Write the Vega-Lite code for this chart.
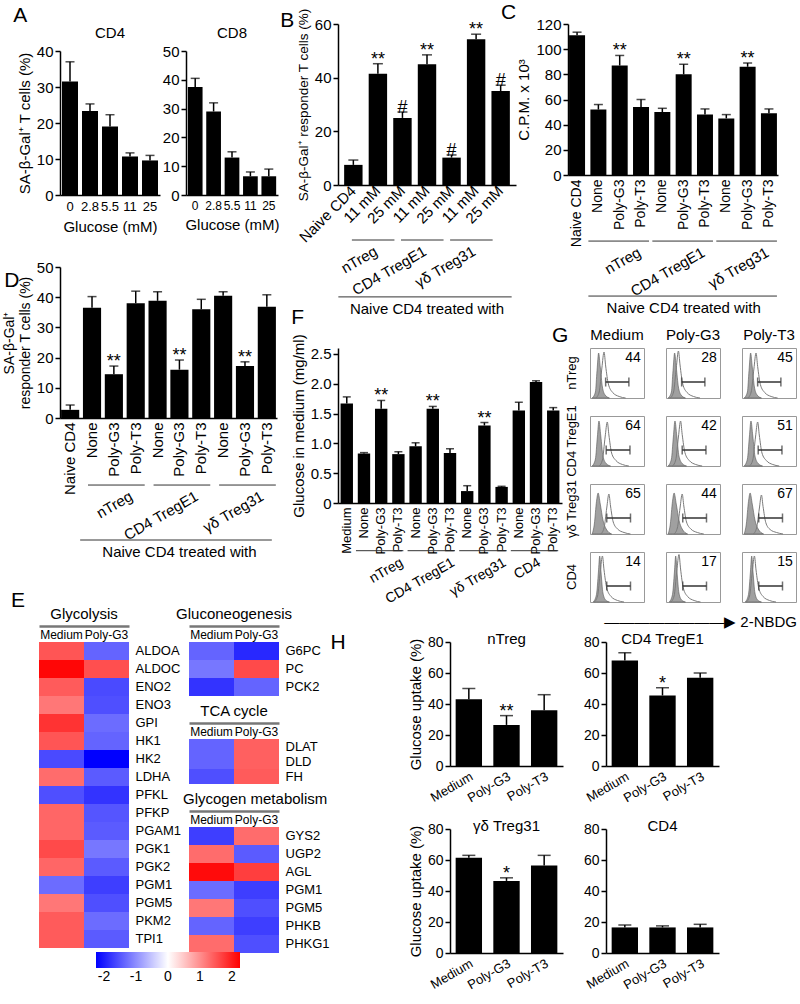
{
"$schema":"https://vega.github.io/schema/vega-lite/v6.json",
"padding":{"left":2,"top":2,"right":2,"bottom":0},
"config":{
 "font":"Liberation Sans",
 "view":{"stroke":null},
 "axis":{"grid":false,"domainColor":"#000","tickColor":"#000","labelColor":"#000","titleColor":"#000","labelFontSize":15,"titleFontSize":15,"titleFontWeight":"normal","domainWidth":1.5,"tickWidth":1.5,"tickSize":5,"labelPadding":2,"titlePadding":4,"labelFlush":false,"labelOverlap":false,"labelFont":"Liberation Sans","titleFont":"Liberation Sans"},
 "title":{"fontSize":15,"fontWeight":"normal","color":"#000","font":"Liberation Sans"},
 "header":{"labelFont":"Liberation Sans","titleFont":"Liberation Sans","labelColor":"#000","titleColor":"#000","titleFontWeight":"normal"},
 "legend":{"labelFont":"Liberation Sans","labelColor":"#000"},
 "text":{"font":"Liberation Sans","color":"#000"}
},
"datasets":{
 "a4":[{"k":"0","m":31.5,"hi":37},{"k":"2.8","m":23.3,"hi":25.3},{"k":"5.5","m":19,"hi":22.3},{"k":"11","m":10.7,"hi":11.7},{"k":"25","m":9.6,"hi":11}],
 "a8":[{"k":"0","m":37.5,"hi":40.5},{"k":"2.8","m":29,"hi":32},{"k":"5.5","m":13,"hi":15},{"k":"11","m":6.5,"hi":8},{"k":"25","m":6.5,"hi":9}],
 "b":[{"k":"a:Naive CD4","m":7.5,"hi":9.3,"s":""},{"k":"b:11 mM","m":41.5,"hi":45.2,"s":"**"},{"k":"c:25 mM","m":25,"hi":27.2,"s":"#"},{"k":"d:11 mM","m":45,"hi":48.5,"s":"**"},{"k":"e:25 mM","m":10.2,"hi":11.2,"s":"#"},{"k":"f:11 mM","m":54.3,"hi":56.2,"s":"**"},{"k":"g:25 mM","m":35,"hi":37.2,"s":"#"}],
 "bg":[{"g":"nTreg","k1":"b:11 mM","k2":"c:25 mM"},{"g":"CD4 TregE1","k1":"d:11 mM","k2":"e:25 mM"},{"g":"γδ Treg31","k1":"f:11 mM","k2":"g:25 mM"}],
 "bl":[{"t":"Naive CD4 treated with","k1":"a:Naive CD4","k2":"g:25 mM","km":"d:11 mM"}],
 "c":[{"k":"a:Naive CD4","m":111,"hi":113.5,"s":""},{"k":"b:None","m":52,"hi":56,"s":""},{"k":"c:Poly-G3","m":87,"hi":95,"s":"**"},{"k":"d:Poly-T3","m":54,"hi":60,"s":""},{"k":"e:None","m":50,"hi":53,"s":""},{"k":"f:Poly-G3","m":80,"hi":88,"s":"**"},{"k":"g:Poly-T3","m":48,"hi":52.5,"s":""},{"k":"h:None","m":45,"hi":48,"s":""},{"k":"i:Poly-G3","m":86,"hi":89,"s":"**"},{"k":"j:Poly-T3","m":49,"hi":52.5,"s":""}],
 "cg":[{"g":"nTreg","k1":"b:None","k2":"d:Poly-T3"},{"g":"CD4 TregE1","k1":"e:None","k2":"g:Poly-T3"},{"g":"γδ Treg31","k1":"h:None","k2":"j:Poly-T3"}],
 "cl":[{"t":"Naive CD4 treated with","k1":"b:None","k2":"j:Poly-T3","km":"f:Poly-G3"}],
 "d":[{"k":"a:Naive CD4","m":2.7,"hi":4.3,"s":""},{"k":"b:None","m":36.5,"hi":40.2,"s":""},{"k":"c:Poly-G3","m":14.5,"hi":17.2,"s":"**"},{"k":"d:Poly-T3","m":38,"hi":42,"s":""},{"k":"e:None","m":38.8,"hi":41.8,"s":""},{"k":"f:Poly-G3","m":16,"hi":19.2,"s":"**"},{"k":"g:Poly-T3","m":36,"hi":39.3,"s":""},{"k":"h:None","m":40.5,"hi":41.8,"s":""},{"k":"i:Poly-G3","m":17.2,"hi":18.6,"s":"**"},{"k":"j:Poly-T3","m":36.8,"hi":40.8,"s":""}],
 "dl":[{"t":"Naive CD4 treated with","k1":"a:Naive CD4","k2":"j:Poly-T3","km":"f:Poly-G3"}],
 "f":[{"k":"a:Medium","m":1.67,"hi":1.78,"s":""},{"k":"b:None","m":0.83,"hi":0.845,"s":""},{"k":"c:Poly-G3","m":1.58,"hi":1.72,"s":"**"},{"k":"d:Poly-T3","m":0.82,"hi":0.86,"s":""},{"k":"e:None","m":0.95,"hi":1.01,"s":""},{"k":"f:Poly-G3","m":1.58,"hi":1.62,"s":"**"},{"k":"g:Poly-T3","m":0.84,"hi":0.91,"s":""},{"k":"h:None","m":0.2,"hi":0.29,"s":""},{"k":"i:Poly-G3","m":1.3,"hi":1.35,"s":"**"},{"k":"j:Poly-T3","m":0.27,"hi":0.28,"s":""},{"k":"k:None","m":1.55,"hi":1.69,"s":""},{"k":"l:Poly-G3","m":2.03,"hi":2.05,"s":""},{"k":"m:Poly-T3","m":1.55,"hi":1.6,"s":""}],
 "fg":[{"g":"nTreg","k1":"b:None","k2":"d:Poly-T3","ka":"d:Poly-T3"},{"g":"CD4 TregE1","k1":"e:None","k2":"g:Poly-T3","ka":"g:Poly-T3"},{"g":"γδ Treg31","k1":"h:None","k2":"j:Poly-T3","ka":"j:Poly-T3"},{"g":"CD4","k1":"k:None","k2":"m:Poly-T3","ka":"l:Poly-G3"}],
 "h1":[{"k":"Medium","m":43,"hi":50,"s":""},{"k":"Poly-G3","m":26.5,"hi":32.5,"s":"**"},{"k":"Poly-T3","m":36,"hi":46,"s":""}],
 "h2":[{"k":"Medium","m":68,"hi":73,"s":""},{"k":"Poly-G3","m":45.5,"hi":50.5,"s":"*"},{"k":"Poly-T3","m":57,"hi":60,"s":""}],
 "h3":[{"k":"Medium","m":61.5,"hi":63,"s":""},{"k":"Poly-G3","m":46.5,"hi":48.5,"s":"*"},{"k":"Poly-T3","m":56.5,"hi":63,"s":""}],
 "h4":[{"k":"Medium","m":16.5,"hi":18,"s":""},{"k":"Poly-G3","m":16.5,"hi":17.5,"s":""},{"k":"Poly-T3","m":16.5,"hi":18.5,"s":""}],
 "eg":[{"gene":"ALDOA","c":"Medium","z":1.5},{"gene":"ALDOA","c":"Poly-G3","z":-1.37},{"gene":"ALDOC","c":"Medium","z":2.2},{"gene":"ALDOC","c":"Poly-G3","z":1.55},{"gene":"ENO2","c":"Medium","z":1.45},{"gene":"ENO2","c":"Poly-G3","z":-1.6},{"gene":"ENO3","c":"Medium","z":1.2},{"gene":"ENO3","c":"Poly-G3","z":-1.55},{"gene":"GPI","c":"Medium","z":1.8},{"gene":"GPI","c":"Poly-G3","z":-1.3},{"gene":"HK1","c":"Medium","z":1.5},{"gene":"HK1","c":"Poly-G3","z":-1.37},{"gene":"HK2","c":"Medium","z":-1.6},{"gene":"HK2","c":"Poly-G3","z":-2.25},{"gene":"LDHA","c":"Medium","z":1.3},{"gene":"LDHA","c":"Poly-G3","z":-1.45},{"gene":"PFKL","c":"Medium","z":-1.55},{"gene":"PFKL","c":"Poly-G3","z":-1.8},{"gene":"PFKP","c":"Medium","z":1.35},{"gene":"PFKP","c":"Poly-G3","z":-1.5},{"gene":"PGAM1","c":"Medium","z":1.35},{"gene":"PGAM1","c":"Poly-G3","z":-1.45},{"gene":"PGK1","c":"Medium","z":1.6},{"gene":"PGK1","c":"Poly-G3","z":-1.2},{"gene":"PGK2","c":"Medium","z":1.35},{"gene":"PGK2","c":"Poly-G3","z":-1.45},{"gene":"PGM1","c":"Medium","z":-1.3},{"gene":"PGM1","c":"Poly-G3","z":-1.7},{"gene":"PGM5","c":"Medium","z":1.2},{"gene":"PGM5","c":"Poly-G3","z":-1.55},{"gene":"PKM2","c":"Medium","z":1.45},{"gene":"PKM2","c":"Poly-G3","z":-1.3},{"gene":"TPI1","c":"Medium","z":1.45},{"gene":"TPI1","c":"Poly-G3","z":-1.45}],
 "en":[{"gene":"G6PC","c":"Medium","z":-1.37},{"gene":"G6PC","c":"Poly-G3","z":-1.9},{"gene":"PC","c":"Medium","z":-1.2},{"gene":"PC","c":"Poly-G3","z":1.6},{"gene":"PCK2","c":"Medium","z":-1.8},{"gene":"PCK2","c":"Poly-G3","z":-1.37}],
 "et":[{"gene":"DLAT","c":"Medium","z":-1.37},{"gene":"DLAT","c":"Poly-G3","z":1.4},{"gene":"DLD","c":"Medium","z":-1.37},{"gene":"DLD","c":"Poly-G3","z":1.4},{"gene":"FH","c":"Medium","z":-1.55},{"gene":"FH","c":"Poly-G3","z":1.45}],
 "ey":[{"gene":"GYS2","c":"Medium","z":-1.7},{"gene":"GYS2","c":"Poly-G3","z":1.3},{"gene":"UGP2","c":"Medium","z":1.3},{"gene":"UGP2","c":"Poly-G3","z":-1.45},{"gene":"AGL","c":"Medium","z":2.15},{"gene":"AGL","c":"Poly-G3","z":1.7},{"gene":"PGM1","c":"Medium","z":-1.3},{"gene":"PGM1","c":"Poly-G3","z":-1.7},{"gene":"PGM5","c":"Medium","z":1.2},{"gene":"PGM5","c":"Poly-G3","z":-1.55},{"gene":"PHKB","c":"Medium","z":-1.37},{"gene":"PHKB","c":"Poly-G3","z":-1.7},{"gene":"PHKG1","c":"Medium","z":1.3},{"gene":"PHKG1","c":"Poly-G3","z":-1.55}],
 "gh":[
  {"c":"nTreg","p":"Medium","t":"a","x":[0.2,0.5,0.65,0.8,0.95,1.15,1.4,1.8],"y":[0,12,55,90,62,22,6,0]},
  {"c":"nTreg","p":"Poly-G3","t":"a","x":[0.2,0.5,0.65,0.8,0.95,1.15,1.4,1.8],"y":[0,12,55,90,62,22,6,0]},
  {"c":"nTreg","p":"Poly-T3","t":"a","x":[0.2,0.5,0.65,0.8,0.95,1.15,1.4,1.8],"y":[0,12,55,90,62,22,6,0]},
  {"c":"CD4 TregE1","p":"Medium","t":"a","x":[0.2,0.5,0.68,0.83,1.0,1.2,1.5,1.9],"y":[0,14,58,90,60,20,5,0]},
  {"c":"CD4 TregE1","p":"Poly-G3","t":"a","x":[0.2,0.5,0.68,0.83,1.0,1.2,1.5,1.9],"y":[0,14,58,90,60,20,5,0]},
  {"c":"CD4 TregE1","p":"Poly-T3","t":"a","x":[0.2,0.5,0.68,0.83,1.0,1.2,1.5,1.9],"y":[0,14,58,90,60,20,5,0]},
  {"c":"γδ Treg31","p":"Medium","t":"a","x":[0.2,0.4,0.6,0.75,0.95,1.2,1.5,2.0],"y":[0,20,65,82,60,28,10,0]},
  {"c":"γδ Treg31","p":"Poly-G3","t":"a","x":[0.2,0.4,0.6,0.75,0.95,1.2,1.5,2.0],"y":[0,20,65,82,60,28,10,0]},
  {"c":"γδ Treg31","p":"Poly-T3","t":"a","x":[0.2,0.4,0.6,0.75,0.95,1.2,1.5,2.0],"y":[0,20,65,82,60,28,10,0]},
  {"c":"CD4","p":"Medium","t":"a","x":[0.3,0.6,0.78,0.9,1.02,1.2,1.45,1.8],"y":[0,15,60,92,60,18,4,0]},
  {"c":"CD4","p":"Poly-G3","t":"a","x":[0.3,0.6,0.78,0.9,1.02,1.2,1.45,1.8],"y":[0,15,60,92,60,18,4,0]},
  {"c":"CD4","p":"Poly-T3","t":"a","x":[0.3,0.6,0.78,0.9,1.02,1.2,1.45,1.8],"y":[0,15,60,92,60,18,4,0]},
  {"c":"nTreg","p":"Medium","t":"b","x":[0.55,0.85,1.1,1.3,1.45,1.7,2.1,2.7,3.3],"y":[0,12,60,92,64,28,11,3,0]},
  {"c":"nTreg","p":"Poly-G3","t":"b","x":[0.4,0.7,0.95,1.15,1.3,1.55,1.95,2.55,3.15],"y":[0,12,60,94,66,28,11,3,0]},
  {"c":"nTreg","p":"Poly-T3","t":"b","x":[0.55,0.85,1.1,1.3,1.45,1.7,2.1,2.7,3.3],"y":[0,12,58,90,63,27,11,3,0]},
  {"c":"CD4 TregE1","p":"Medium","t":"b","x":[0.85,1.15,1.4,1.6,1.75,2.0,2.4,3.0,3.6],"y":[0,12,58,88,62,26,11,3,0]},
  {"c":"CD4 TregE1","p":"Poly-G3","t":"b","x":[0.6,0.9,1.15,1.35,1.5,1.75,2.15,2.75,3.35],"y":[0,12,58,90,63,27,11,3,0]},
  {"c":"CD4 TregE1","p":"Poly-T3","t":"b","x":[0.7,1.0,1.25,1.45,1.6,1.85,2.25,2.85,3.45],"y":[0,12,58,88,62,26,11,3,0]},
  {"c":"γδ Treg31","p":"Medium","t":"b","x":[1.0,1.3,1.55,1.75,1.9,2.15,2.55,3.15,3.75],"y":[0,12,52,80,56,24,10,3,0]},
  {"c":"γδ Treg31","p":"Poly-G3","t":"b","x":[0.75,1.05,1.3,1.5,1.65,1.9,2.3,2.9,3.5],"y":[0,12,52,80,56,24,10,3,0]},
  {"c":"γδ Treg31","p":"Poly-T3","t":"b","x":[1.05,1.35,1.6,1.8,1.95,2.2,2.6,3.2,3.8],"y":[0,12,50,78,55,23,9,3,0]},
  {"c":"CD4","p":"Medium","t":"b","x":[0.4,0.7,0.95,1.15,1.3,1.55,1.95,2.55,3.15],"y":[0,12,60,92,64,28,11,3,0]},
  {"c":"CD4","p":"Poly-G3","t":"b","x":[0.45,0.75,1.0,1.2,1.35,1.6,2.0,2.6,3.2],"y":[0,12,62,95,66,28,11,3,0]},
  {"c":"CD4","p":"Poly-T3","t":"b","x":[0.4,0.7,0.95,1.15,1.3,1.55,1.95,2.55,3.15],"y":[0,12,60,92,64,28,11,3,0]},
  {"c":"nTreg","p":"Medium","t":"g","x":[1.45],"y":[0],"x2":3.6,"n":"44"},
  {"c":"nTreg","p":"Poly-G3","t":"g","x":[1.45],"y":[0],"x2":3.6,"n":"28"},
  {"c":"nTreg","p":"Poly-T3","t":"g","x":[1.45],"y":[0],"x2":3.6,"n":"45"},
  {"c":"CD4 TregE1","p":"Medium","t":"g","x":[1.5],"y":[0],"x2":3.7,"n":"64"},
  {"c":"CD4 TregE1","p":"Poly-G3","t":"g","x":[1.5],"y":[0],"x2":3.7,"n":"42"},
  {"c":"CD4 TregE1","p":"Poly-T3","t":"g","x":[1.5],"y":[0],"x2":3.7,"n":"51"},
  {"c":"γδ Treg31","p":"Medium","t":"g","x":[1.55],"y":[0],"x2":3.75,"n":"65"},
  {"c":"γδ Treg31","p":"Poly-G3","t":"g","x":[1.55],"y":[0],"x2":3.75,"n":"44"},
  {"c":"γδ Treg31","p":"Poly-T3","t":"g","x":[1.55],"y":[0],"x2":3.75,"n":"67"},
  {"c":"CD4","p":"Medium","t":"g","x":[1.55],"y":[0],"x2":3.75,"n":"14"},
  {"c":"CD4","p":"Poly-G3","t":"g","x":[1.55],"y":[0],"x2":3.75,"n":"17"},
  {"c":"CD4","p":"Poly-T3","t":"g","x":[1.55],"y":[0],"x2":3.75,"n":"15"}
 ]
},
"vconcat":[
 {"hconcat":[
  {"vconcat":[
   {"vconcat":[
    {"width":1,"height":1,"data":{"values":[]},"mark":{"type":"point","opacity":0},"encoding":{}},
    {"title":{"text":"A","anchor":"start","fontSize":21,"offset":0,"dx":-4},
     "hconcat":[
      {"width":100,"height":144,"title":{"text":"CD4","offset":3},"data":{"name":"a4"},
       "layer":[
        {"mark":{"type":"bar","color":"#000"},"encoding":{
          "x":{"field":"k","type":"nominal","sort":["0","2.8","5.5","11","25"],"scale":{"paddingInner":0.2,"paddingOuter":0.1},"axis":{"title":"Glucose (mM)","labelAngle":0,"ticks":false,"labelPadding":5,"titlePadding":6,"labelFontSize":13}},
          "y":{"field":"m","type":"quantitative","scale":{"domain":[0,40]},"axis":{"title":"SA-β-Gal⁺ T cells (%)","values":[0,10,20,30,40],"tickCount":20,"labelOverlap":false}}}},
        {"mark":{"type":"rule","color":"#000","strokeWidth":1.5},"encoding":{"x":{"field":"k","type":"nominal","sort":["0","2.8","5.5","11","25"]},"y":{"field":"m","type":"quantitative"},"y2":{"field":"hi"}}},
        {"mark":{"type":"tick","color":"#000","thickness":1.5,"size":9},"encoding":{"x":{"field":"k","type":"nominal","sort":["0","2.8","5.5","11","25"]},"y":{"field":"hi","type":"quantitative"}}}
       ]},
      {"width":92,"height":144,"title":{"text":"CD8","offset":3},"data":{"name":"a8"},
       "layer":[
        {"mark":{"type":"bar","color":"#000"},"encoding":{
          "x":{"field":"k","type":"nominal","sort":["0","2.8","5.5","11","25"],"scale":{"paddingInner":0.2,"paddingOuter":0.1},"axis":{"title":"Glucose (mM)","labelAngle":0,"ticks":false,"labelPadding":5,"titlePadding":6,"labelFontSize":12}},
          "y":{"field":"m","type":"quantitative","scale":{"domain":[0,50]},"axis":{"title":null,"values":[0,10,20,30,40,50],"tickCount":20,"labelOverlap":false}}}},
        {"mark":{"type":"rule","color":"#000","strokeWidth":1.5},"encoding":{"x":{"field":"k","type":"nominal","sort":["0","2.8","5.5","11","25"]},"y":{"field":"m","type":"quantitative"},"y2":{"field":"hi"}}},
        {"mark":{"type":"tick","color":"#000","thickness":1.5,"size":9},"encoding":{"x":{"field":"k","type":"nominal","sort":["0","2.8","5.5","11","25"]},"y":{"field":"hi","type":"quantitative"}}}
       ]}
     ],"spacing":2}
   ],"spacing":-20},
   {"width":217,"height":151,"title":{"text":"D","anchor":"start","fontSize":21,"offset":-31,"dx":2},"data":{"name":"d"},
    "layer":[
     {"mark":{"type":"bar","color":"#000"},"encoding":{
       "x":{"field":"k","type":"nominal","sort":"ascending","scale":{"paddingInner":0.17,"paddingOuter":0.05},"axis":{"title":null,"ticks":false,"labelAngle":-90,"labelAlign":"right","labelBaseline":"middle","labelPadding":4,"labelExpr":"split(datum.value, ':')[1]"}},
       "y":{"field":"m","type":"quantitative","scale":{"domain":[0,50]},"axis":{"title":["SA-β-Gal⁺","responder T cells (%)"],"titleFontSize":14,"values":[0,10,20,30,40,50],"tickCount":20,"labelOverlap":false}}}},
     {"mark":{"type":"rule","color":"#000","strokeWidth":1.5},"encoding":{"x":{"field":"k","type":"nominal","sort":"ascending"},"y":{"field":"m","type":"quantitative"},"y2":{"field":"hi"}}},
     {"mark":{"type":"tick","color":"#000","thickness":1.5,"size":9},"encoding":{"x":{"field":"k","type":"nominal","sort":"ascending"},"y":{"field":"hi","type":"quantitative"}}},
     {"mark":{"type":"text","fontSize":18,"baseline":"alphabetic","dy":1},"encoding":{"x":{"field":"k","type":"nominal","sort":"ascending"},"y":{"field":"hi","type":"quantitative"},"text":{"field":"s"}}},
     {"data":{"name":"cg"},"mark":{"type":"rule","color":"#333","strokeWidth":1,"xOffset":-4,"x2Offset":9},"encoding":{"x":{"field":"k1","type":"nominal","sort":"ascending"},"x2":{"field":"k2"},"y":{"datum":-22.2}}},
     {"data":{"name":"cg"},"mark":{"type":"text","angle":330,"align":"right","baseline":"top","fontSize":15,"xOffset":-8,"yOffset":4},"encoding":{"x":{"field":"k2","type":"nominal","sort":"ascending"},"y":{"datum":-22.2},"text":{"field":"g"}}},
     {"data":{"name":"dl"},"mark":{"type":"rule","color":"#333","strokeWidth":1,"xOffset":10,"x2Offset":5},"encoding":{"x":{"field":"k1","type":"nominal","sort":"ascending"},"x2":{"field":"k2"},"y":{"datum":-40.4}}},
     {"data":{"name":"dl"},"mark":{"type":"text","align":"center","baseline":"top","fontSize":15,"yOffset":5},"encoding":{"x":{"field":"km","type":"nominal","sort":"ascending"},"y":{"datum":-40.4},"text":{"field":"t"}}}
    ]}
  ],"spacing":26},
  {"vconcat":[
   {"concat":[
    {"width":178,"height":161,"title":{"text":"B","anchor":"start","fontSize":21,"dx":-16,"offset":-23},"data":{"name":"b"},
     "layer":[
      {"mark":{"type":"bar","color":"#000"},"encoding":{
        "x":{"field":"k","type":"nominal","sort":"ascending","scale":{"paddingInner":0.25,"paddingOuter":0.25},"axis":{"title":null,"ticks":false,"labelAngle":-45,"labelAlign":"right","labelBaseline":"middle","labelPadding":3,"labelExpr":"split(datum.value, ':')[1]"}},
        "y":{"field":"m","type":"quantitative","scale":{"domain":[0,60]},"axis":{"title":"SA-β-Gal⁺ responder T cells (%)","titleFontSize":13.5,"values":[0,20,40,60],"tickCount":20,"labelOverlap":false}}}},
      {"mark":{"type":"rule","color":"#000","strokeWidth":1.5},"encoding":{"x":{"field":"k","type":"nominal","sort":"ascending"},"y":{"field":"m","type":"quantitative"},"y2":{"field":"hi"}}},
      {"mark":{"type":"tick","color":"#000","thickness":1.5,"size":10},"encoding":{"x":{"field":"k","type":"nominal","sort":"ascending"},"y":{"field":"hi","type":"quantitative"}}},
      {"mark":{"type":"text","fontSize":18,"baseline":"alphabetic","dy":1},"encoding":{"x":{"field":"k","type":"nominal","sort":"ascending"},"y":{"field":"hi","type":"quantitative"},"text":{"field":"s"}}},
      {"data":{"name":"bg"},"mark":{"type":"rule","color":"#333","strokeWidth":1,"xOffset":-26,"x2Offset":-8},"encoding":{"x":{"field":"k1","type":"nominal","sort":"ascending"},"x2":{"field":"k2"},"y":{"datum":-20.5}}},
      {"data":{"name":"bg"},"mark":{"type":"text","angle":330,"align":"right","baseline":"top","fontSize":15,"xOffset":-30,"yOffset":4},"encoding":{"x":{"field":"k2","type":"nominal","sort":"ascending"},"y":{"datum":-20.5},"text":{"field":"g"}}},
      {"data":{"name":"bl"},"mark":{"type":"rule","color":"#333","strokeWidth":1,"xOffset":-15,"x2Offset":11},"encoding":{"x":{"field":"k1","type":"nominal","sort":"ascending"},"x2":{"field":"k2"},"y":{"datum":-41.7}}},
      {"data":{"name":"bl"},"mark":{"type":"text","align":"center","baseline":"top","fontSize":15,"yOffset":5},"encoding":{"x":{"field":"km","type":"nominal","sort":"ascending"},"y":{"datum":-41.7},"text":{"field":"t"}}}
     ]},
    {"width":210,"height":151,"title":{"text":"C","anchor":"start","fontSize":21,"dx":-16,"offset":-6},"data":{"name":"c"},
     "layer":[
      {"mark":{"type":"bar","color":"#000"},"encoding":{
        "x":{"field":"k","type":"nominal","sort":"ascending","scale":{"paddingInner":0.25,"paddingOuter":0.05},"axis":{"title":null,"ticks":false,"labelAngle":-90,"labelAlign":"right","labelBaseline":"middle","labelPadding":4,"labelFontSize":14,"labelExpr":"split(datum.value, ':')[1]"}},
        "y":{"field":"m","type":"quantitative","scale":{"domain":[0,120]},"axis":{"title":"C.P.M. x 10³","values":[0,20,40,60,80,100,120],"tickCount":20,"labelOverlap":false}}}},
      {"mark":{"type":"rule","color":"#000","strokeWidth":1.5},"encoding":{"x":{"field":"k","type":"nominal","sort":"ascending"},"y":{"field":"m","type":"quantitative"},"y2":{"field":"hi"}}},
      {"mark":{"type":"tick","color":"#000","thickness":1.5,"size":9},"encoding":{"x":{"field":"k","type":"nominal","sort":"ascending"},"y":{"field":"hi","type":"quantitative"}}},
      {"mark":{"type":"text","fontSize":18,"baseline":"alphabetic","dy":1},"encoding":{"x":{"field":"k","type":"nominal","sort":"ascending"},"y":{"field":"hi","type":"quantitative"},"text":{"field":"s"}}},
      {"data":{"name":"cg"},"mark":{"type":"rule","color":"#333","strokeWidth":1,"xOffset":-10,"x2Offset":8},"encoding":{"x":{"field":"k1","type":"nominal","sort":"ascending"},"x2":{"field":"k2"},"y":{"datum":-52.5}}},
      {"data":{"name":"cg"},"mark":{"type":"text","angle":330,"align":"right","baseline":"top","fontSize":15,"xOffset":-5,"yOffset":4},"encoding":{"x":{"field":"k2","type":"nominal","sort":"ascending"},"y":{"datum":-52.5},"text":{"field":"g"}}},
      {"data":{"name":"cl"},"mark":{"type":"rule","color":"#333","strokeWidth":1,"xOffset":-10,"x2Offset":8},"encoding":{"x":{"field":"k1","type":"nominal","sort":"ascending"},"x2":{"field":"k2"},"y":{"datum":-96.2}}},
      {"data":{"name":"cl"},"mark":{"type":"text","align":"center","baseline":"top","fontSize":15,"yOffset":5},"encoding":{"x":{"field":"km","type":"nominal","sort":"ascending"},"y":{"datum":-96.2},"text":{"field":"t"}}}
     ]}
   ],"columns":2,"align":"none","spacing":-16},
   {"concat":[
    {"width":224,"height":155,"title":{"text":"F","anchor":"start","fontSize":21,"offset":6},"data":{"name":"f"},
     "layer":[
      {"mark":{"type":"bar","color":"#000"},"encoding":{
        "x":{"field":"k","type":"nominal","sort":"ascending","scale":{"paddingInner":0.28,"paddingOuter":0.15},"axis":{"title":null,"ticks":false,"labelAngle":-90,"labelAlign":"right","labelBaseline":"middle","labelPadding":4,"labelFontSize":13,"labelExpr":"split(datum.value, ':')[1]"}},
        "y":{"field":"m","type":"quantitative","scale":{"domain":[0,2.5]},"axis":{"title":"Glucose in medium (mg/ml)","values":[0,0.5,1,1.5,2,2.5],"tickCount":20,"labelOverlap":false,"labelExpr":"datum.value == 0 ? '0' : format(datum.value, '.1f')"}}}},
      {"mark":{"type":"rule","color":"#000","strokeWidth":1.5},"encoding":{"x":{"field":"k","type":"nominal","sort":"ascending"},"y":{"field":"m","type":"quantitative"},"y2":{"field":"hi"}}},
      {"mark":{"type":"tick","color":"#000","thickness":1.5,"size":8},"encoding":{"x":{"field":"k","type":"nominal","sort":"ascending"},"y":{"field":"hi","type":"quantitative"}}},
      {"mark":{"type":"text","fontSize":18,"baseline":"alphabetic","dy":1},"encoding":{"x":{"field":"k","type":"nominal","sort":"ascending"},"y":{"field":"hi","type":"quantitative"},"text":{"field":"s"}}},
      {"data":{"name":"fg"},"mark":{"type":"rule","color":"#333","strokeWidth":1,"xOffset":-8,"x2Offset":5},"encoding":{"x":{"field":"k1","type":"nominal","sort":"ascending"},"x2":{"field":"k2"},"y":{"datum":-0.8}}},
      {"data":{"name":"fg"},"mark":{"type":"text","angle":330,"align":"right","baseline":"top","fontSize":14,"yOffset":5},"encoding":{"x":{"field":"ka","type":"nominal","sort":"ascending"},"y":{"datum":-0.8},"text":{"field":"g"}}}
     ]},
    {"title":{"text":"G","anchor":"start","fontSize":21,"offset":-18,"dx":-14},
     "data":{"name":"gh"},
     "transform":[{"flatten":["x","y"]}],
     "facet":{
      "row":{"field":"c","type":"nominal","sort":["nTreg","CD4 TregE1","γδ Treg31","CD4"],"header":{"title":null,"labelAngle":-90,"labelOrient":"left","labelFontSize":13,"labelPadding":4}},
      "column":{"field":"p","type":"nominal","sort":["Medium","Poly-G3","Poly-T3"],"header":{"title":"————————▶ 2-NBDG","titleOrient":"bottom","titleAnchor":"end","titleFontSize":15,"titlePadding":0,"labelOrient":"top","labelFontSize":15,"labelPadding":4}}
     },
     "spacing":{"row":14,"column":20},
     "spec":{
      "width":54,"height":50,
      "view":{"stroke":"#999","strokeWidth":1},
      "layer":[
       {"transform":[{"filter":"datum.t == 'a'"}],"mark":{"type":"area","color":"#a0a0a0","stroke":"#555","strokeWidth":0.6,"interpolate":"monotone"},"encoding":{"x":{"field":"x","type":"quantitative","scale":{"domain":[0,5]},"axis":null},"y":{"field":"y","type":"quantitative","scale":{"domain":[0,100]},"axis":null}}},
       {"transform":[{"filter":"datum.t == 'b'"}],"mark":{"type":"line","color":"#7a7a7a","strokeWidth":1,"interpolate":"monotone"},"encoding":{"x":{"field":"x","type":"quantitative"},"y":{"field":"y","type":"quantitative"}}},
       {"transform":[{"filter":"datum.t == 'g'"}],"mark":{"type":"rule","color":"#333","strokeWidth":1.5},"encoding":{"x":{"field":"x","type":"quantitative"},"x2":{"field":"x2"},"y":{"datum":32}}},
       {"transform":[{"filter":"datum.t == 'g'"}],"mark":{"type":"tick","orient":"vertical","color":"#333","thickness":1.5,"size":9},"encoding":{"x":{"field":"x","type":"quantitative"},"y":{"datum":32}}},
       {"transform":[{"filter":"datum.t == 'g'"}],"mark":{"type":"tick","orient":"vertical","color":"#333","thickness":1.5,"size":9},"encoding":{"x":{"field":"x2","type":"quantitative"},"y":{"datum":32}}},
       {"transform":[{"filter":"datum.t == 'g'"}],"mark":{"type":"text","align":"right","baseline":"middle","fontSize":14},"encoding":{"x":{"datum":4.7},"y":{"datum":80},"text":{"field":"n"}}}
      ]
     }
    }
   ],"columns":2,"align":"none","spacing":-11}
  ],"spacing":-11}
 ],"spacing":0},
 {"hconcat":[
  {"title":{"text":"E","anchor":"start","fontSize":21,"dx":-28,"offset":-4},
   "concat":[
    {"concat":[
     {"width":1,"height":1,"data":{"values":[]},"mark":{"type":"point","opacity":0},"encoding":{}},
     {"width":90,"height":306,"title":{"text":"Glycolysis","offset":4},"data":{"name":"eg"},"mark":{"type":"rect"},
      "encoding":{
       "x":{"field":"c","type":"nominal","sort":["Medium","Poly-G3"],"scale":{"paddingInner":0,"paddingOuter":0},"axis":{"orient":"top","title":null,"labelAngle":0,"ticks":false,"tickSize":0,"domain":true,"domainColor":"#777","domainWidth":2.5,"offset":16,"labelPadding":-15,"labelBaseline":"bottom","labelFontSize":12}},
       "y":{"field":"gene","type":"nominal","sort":null,"scale":{"paddingInner":0,"paddingOuter":0},"axis":{"orient":"right","title":null,"ticks":false,"tickSize":0,"domain":false,"labelFontSize":13,"labelPadding":6}},
       "color":{"field":"z","type":"quantitative","scale":{"domain":[-2.25,0,2.25],"range":["#0000ff","#ffffff","#ff0000"],"interpolate":"rgb"},"legend":{"orient":"none","legendX":36,"legendY":310,"direction":"horizontal","gradientLength":144,"gradientThickness":16,"title":null,"values":[-2,-1,0,1,2],"labelFontSize":14,"gradientStrokeWidth":0,"labelExpr":"datum.value < 0 ? '-' + abs(datum.value) : '' + datum.value"}}
      }}
    ],"columns":2,"align":"none","spacing":-22},
    {"vconcat":[
     {"width":90,"height":54,"title":{"text":"Gluconeogenesis","offset":4},"data":{"name":"en"},"mark":{"type":"rect"},
      "encoding":{
       "x":{"field":"c","type":"nominal","sort":["Medium","Poly-G3"],"scale":{"paddingInner":0,"paddingOuter":0},"axis":{"orient":"top","title":null,"labelAngle":0,"ticks":false,"tickSize":0,"domain":true,"domainColor":"#777","domainWidth":2.5,"offset":16,"labelPadding":-15,"labelBaseline":"bottom","labelFontSize":12}},
       "y":{"field":"gene","type":"nominal","sort":null,"scale":{"paddingInner":0,"paddingOuter":0},"axis":{"orient":"right","title":null,"ticks":false,"tickSize":0,"domain":false,"labelFontSize":13,"labelPadding":6}},
       "color":{"field":"z","type":"quantitative","scale":{"domain":[-2.25,0,2.25],"range":["#0000ff","#ffffff","#ff0000"],"interpolate":"rgb"}}
      }},
     {"width":90,"height":45,"title":{"text":"TCA cycle","offset":4},"data":{"name":"et"},"mark":{"type":"rect"},
      "encoding":{
       "x":{"field":"c","type":"nominal","sort":["Medium","Poly-G3"],"scale":{"paddingInner":0,"paddingOuter":0},"axis":{"orient":"top","title":null,"labelAngle":0,"ticks":false,"tickSize":0,"domain":true,"domainColor":"#777","domainWidth":2.5,"offset":16,"labelPadding":-15,"labelBaseline":"bottom","labelFontSize":12}},
       "y":{"field":"gene","type":"nominal","sort":null,"scale":{"paddingInner":0,"paddingOuter":0},"axis":{"orient":"right","title":null,"ticks":false,"tickSize":0,"domain":false,"labelFontSize":13,"labelPadding":6}},
       "color":{"field":"z","type":"quantitative","scale":{"domain":[-2.25,0,2.25],"range":["#0000ff","#ffffff","#ff0000"],"interpolate":"rgb"}}
      }},
     {"width":90,"height":126,"title":{"text":"Glycogen metabolism","offset":4,"anchor":"start","dx":-6},"data":{"name":"ey"},"mark":{"type":"rect"},
      "encoding":{
       "x":{"field":"c","type":"nominal","sort":["Medium","Poly-G3"],"scale":{"paddingInner":0,"paddingOuter":0},"axis":{"orient":"top","title":null,"labelAngle":0,"ticks":false,"tickSize":0,"domain":true,"domainColor":"#777","domainWidth":2.5,"offset":16,"labelPadding":-15,"labelBaseline":"bottom","labelFontSize":12}},
       "y":{"field":"gene","type":"nominal","sort":null,"scale":{"paddingInner":0,"paddingOuter":0},"axis":{"orient":"right","title":null,"ticks":false,"tickSize":0,"domain":false,"labelFontSize":13,"labelPadding":6}},
       "color":{"field":"z","type":"quantitative","scale":{"domain":[-2.25,0,2.25],"range":["#0000ff","#ffffff","#ff0000"],"interpolate":"rgb"}}
      }}
    ],"spacing":43,"bounds":"flush"}
   ],"columns":2,"align":"none","spacing":-5},
  {"title":{"text":"H","anchor":"start","fontSize":21,"dx":-78,"offset":-21},
   "vconcat":[
    {"hconcat":[
     {"width":113,"height":124,"title":{"text":"nTreg","offset":-12},"data":{"name":"h1"},
      "layer":[
       {"mark":{"type":"bar","color":"#000"},"encoding":{"x":{"field":"k","type":"nominal","sort":["Medium","Poly-G3","Poly-T3"],"scale":{"paddingInner":0.3,"paddingOuter":0.15},"axis":{"title":null,"ticks":false,"labelAngle":-30,"labelAlign":"right","labelBaseline":"top","labelFontSize":13,"labelPadding":4}},"y":{"field":"m","type":"quantitative","scale":{"domain":[0,80]},"axis":{"title":"Glucose uptake (%)","values":[0,20,40,60,80],"tickCount":20,"labelFontSize":14,"labelOverlap":false}}}},
       {"mark":{"type":"rule","color":"#000","strokeWidth":1.5},"encoding":{"x":{"field":"k","type":"nominal","sort":["Medium","Poly-G3","Poly-T3"]},"y":{"field":"m","type":"quantitative"},"y2":{"field":"hi"}}},
       {"mark":{"type":"tick","color":"#000","thickness":1.5,"size":13},"encoding":{"x":{"field":"k","type":"nominal","sort":["Medium","Poly-G3","Poly-T3"]},"y":{"field":"hi","type":"quantitative"}}},
       {"mark":{"type":"text","fontSize":18,"baseline":"alphabetic","dy":1},"encoding":{"x":{"field":"k","type":"nominal","sort":["Medium","Poly-G3","Poly-T3"]},"y":{"field":"hi","type":"quantitative"},"text":{"field":"s"}}}
      ]},
     {"width":113,"height":124,"title":{"text":"CD4 TregE1","offset":-12},"data":{"name":"h2"},
      "layer":[
       {"mark":{"type":"bar","color":"#000"},"encoding":{"x":{"field":"k","type":"nominal","sort":["Medium","Poly-G3","Poly-T3"],"scale":{"paddingInner":0.3,"paddingOuter":0.15},"axis":{"title":null,"ticks":false,"labelAngle":-30,"labelAlign":"right","labelBaseline":"top","labelFontSize":13,"labelPadding":4}},"y":{"field":"m","type":"quantitative","scale":{"domain":[0,80]},"axis":{"title":null,"values":[0,20,40,60,80],"tickCount":20,"labelFontSize":14,"labelOverlap":false}}}},
       {"mark":{"type":"rule","color":"#000","strokeWidth":1.5},"encoding":{"x":{"field":"k","type":"nominal","sort":["Medium","Poly-G3","Poly-T3"]},"y":{"field":"m","type":"quantitative"},"y2":{"field":"hi"}}},
       {"mark":{"type":"tick","color":"#000","thickness":1.5,"size":13},"encoding":{"x":{"field":"k","type":"nominal","sort":["Medium","Poly-G3","Poly-T3"]},"y":{"field":"hi","type":"quantitative"}}},
       {"mark":{"type":"text","fontSize":18,"baseline":"alphabetic","dy":1},"encoding":{"x":{"field":"k","type":"nominal","sort":["Medium","Poly-G3","Poly-T3"]},"y":{"field":"hi","type":"quantitative"},"text":{"field":"s"}}}
      ]}
    ],"spacing":20},
    {"hconcat":[
     {"width":113,"height":124,"title":{"text":"γδ Treg31","offset":-12},"data":{"name":"h3"},
      "layer":[
       {"mark":{"type":"bar","color":"#000"},"encoding":{"x":{"field":"k","type":"nominal","sort":["Medium","Poly-G3","Poly-T3"],"scale":{"paddingInner":0.3,"paddingOuter":0.15},"axis":{"title":null,"ticks":false,"labelAngle":-30,"labelAlign":"right","labelBaseline":"top","labelFontSize":13,"labelPadding":4}},"y":{"field":"m","type":"quantitative","scale":{"domain":[0,80]},"axis":{"title":"Glucose uptake (%)","values":[0,20,40,60,80],"tickCount":20,"labelFontSize":14,"labelOverlap":false}}}},
       {"mark":{"type":"rule","color":"#000","strokeWidth":1.5},"encoding":{"x":{"field":"k","type":"nominal","sort":["Medium","Poly-G3","Poly-T3"]},"y":{"field":"m","type":"quantitative"},"y2":{"field":"hi"}}},
       {"mark":{"type":"tick","color":"#000","thickness":1.5,"size":13},"encoding":{"x":{"field":"k","type":"nominal","sort":["Medium","Poly-G3","Poly-T3"]},"y":{"field":"hi","type":"quantitative"}}},
       {"mark":{"type":"text","fontSize":18,"baseline":"alphabetic","dy":1},"encoding":{"x":{"field":"k","type":"nominal","sort":["Medium","Poly-G3","Poly-T3"]},"y":{"field":"hi","type":"quantitative"},"text":{"field":"s"}}}
      ]},
     {"width":113,"height":124,"title":{"text":"CD4","offset":-12},"data":{"name":"h4"},
      "layer":[
       {"mark":{"type":"bar","color":"#000"},"encoding":{"x":{"field":"k","type":"nominal","sort":["Medium","Poly-G3","Poly-T3"],"scale":{"paddingInner":0.3,"paddingOuter":0.15},"axis":{"title":null,"ticks":false,"labelAngle":-30,"labelAlign":"right","labelBaseline":"top","labelFontSize":13,"labelPadding":4}},"y":{"field":"m","type":"quantitative","scale":{"domain":[0,80]},"axis":{"title":null,"values":[0,20,40,60,80],"tickCount":20,"labelFontSize":14,"labelOverlap":false}}}},
       {"mark":{"type":"rule","color":"#000","strokeWidth":1.5},"encoding":{"x":{"field":"k","type":"nominal","sort":["Medium","Poly-G3","Poly-T3"]},"y":{"field":"m","type":"quantitative"},"y2":{"field":"hi"}}},
       {"mark":{"type":"tick","color":"#000","thickness":1.5,"size":13},"encoding":{"x":{"field":"k","type":"nominal","sort":["Medium","Poly-G3","Poly-T3"]},"y":{"field":"hi","type":"quantitative"}}},
       {"mark":{"type":"text","fontSize":18,"baseline":"alphabetic","dy":1},"encoding":{"x":{"field":"k","type":"nominal","sort":["Medium","Poly-G3","Poly-T3"]},"y":{"field":"hi","type":"quantitative"},"text":{"field":"s"}}}
      ]}
    ],"spacing":20}
   ],"spacing":14}
 ],"spacing":0,"resolve":{"scale":{"color":"independent"}}}
],
"spacing":-40
}
